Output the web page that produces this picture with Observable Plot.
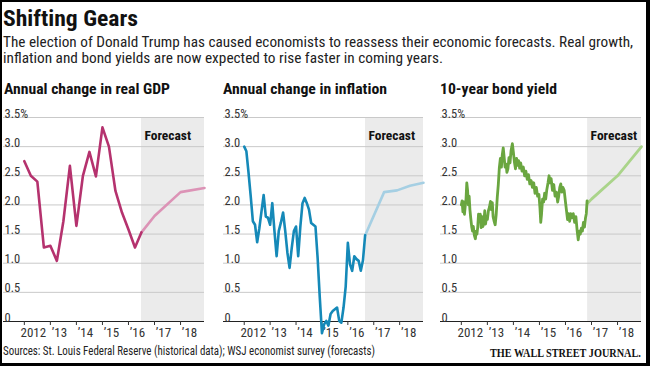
<!DOCTYPE html>
<html><head><meta charset="utf-8">
<script src="https://cdn.jsdelivr.net/npm/d3@7"></script>
<script src="https://cdn.jsdelivr.net/npm/@observablehq/plot@0.6"></script>
<style>
body{margin:0;background:#fff;}
#wrap{position:relative;width:650px;height:366px;overflow:hidden;background:#fff;}
.panel{position:absolute;top:101px;}
.panel svg{overflow:visible;}
#frame{position:absolute;left:0;top:0;width:650px;height:366px;box-sizing:border-box;border-style:solid;border-color:#000;border-width:2px 4px 3px 2px;pointer-events:none;}
#txt{position:absolute;left:0;top:0;pointer-events:none;}
.sans{font-family:"Liberation Sans Narrow","Arial Narrow","Roboto Condensed","DejaVu Sans Condensed",Roboto,sans-serif;}
</style></head><body>
<div id="wrap">
  <div id="p1" class="panel" style="left:0px"></div>
  <div id="p2" class="panel" style="left:218px"></div>
  <div id="p3" class="panel" style="left:435px"></div>
  <svg id="txt" width="650" height="366">
    <text class="sans" x="3" y="25.5" font-size="22" font-weight="bold" fill="#111" textLength="135" lengthAdjust="spacingAndGlyphs">Shifting Gears</text>
    <text class="sans" x="3" y="46.5" font-size="15.5" fill="#222" textLength="630" lengthAdjust="spacingAndGlyphs">The election of Donald Trump has caused economists to reassess their economic forecasts. Real growth,</text>
    <text class="sans" x="3" y="63" font-size="15.5" fill="#222" textLength="440" lengthAdjust="spacingAndGlyphs">inflation and bond yields are now expected to rise faster in coming years.</text>
    <text class="sans" x="4" y="93.5" font-size="15" font-weight="bold" fill="#111" textLength="166" lengthAdjust="spacingAndGlyphs">Annual change in real GDP</text>
    <text class="sans" x="223" y="93.5" font-size="15" font-weight="bold" fill="#111" textLength="164" lengthAdjust="spacingAndGlyphs">Annual change in inflation</text>
    <text class="sans" x="440" y="93.5" font-size="15" font-weight="bold" fill="#111" textLength="117" lengthAdjust="spacingAndGlyphs">10-year bond yield</text>
    <text class="sans" x="3" y="355" font-size="12" fill="#222" textLength="372" lengthAdjust="spacingAndGlyphs">Sources: St. Louis Federal Reserve (historical data); WSJ economist survey (forecasts)</text>
    <text id="wsj" x="0" y="0" font-family="'Liberation Serif','DejaVu Serif',serif" font-size="13" font-weight="bold" fill="#111">THE WALL STREET JOURNAL.</text>
  </svg>
  <div id="frame"></div>
</div>
<script>
const FONT = '"Liberation Sans Narrow","Arial Narrow","Roboto Condensed","DejaVu Sans Condensed",Roboto,sans-serif';

// Axis ticks
const xDomain = [2011.2, 2018.92];
const xTicks = [2012, 2013, 2014, 2015, 2016, 2017, 2018];
const xTickLabels = ["2012", "\u201913", "\u201914", "\u201915", "\u201916", "\u201917", "\u201918"];
const yTicks = [0, 0.5, 1, 1.5, 2, 2.5, 3, 3.5];
const yTickLabels = ["0", "0.5", "1.0", "1.5", "2.0", "2.5", "3.0", "3.5%"];

// Real GDP, annual change (quarterly)
const gdpDates = [2012.0, 2012.25, 2012.5, 2012.75, 2013.0, 2013.25, 2013.5, 2013.75, 2014.0, 2014.25, 2014.5, 2014.75, 2015.0, 2015.25, 2015.5, 2015.75, 2016.0, 2016.25, 2016.5];
const gdpValues = [2.75, 2.5, 2.4, 1.27, 1.3, 1.04, 1.72, 2.67, 1.64, 2.5, 2.91, 2.49, 3.33, 3.0, 2.24, 1.87, 1.58, 1.27, 1.53];
const gdpForecastDates = [2016.5, 2017.0, 2018.0, 2018.92];
const gdpForecastValues = [1.53, 1.81, 2.22, 2.29];
const gdpForecastStart = 2016.5;

// Inflation, annual change (monthly from Jan 2012)
const inflValues = [3.0, 2.92, 2.55, 2.15, 1.72, 1.66, 1.36, 1.6, 1.89, 2.17, 1.8, 1.78,
  1.66, 2.03, 1.55, 1.12, 1.55, 1.7, 1.87, 1.55, 1.18, 0.92, 1.26, 1.55,
  1.63, 1.12, 1.63, 2.03, 2.12, 2.03, 1.92, 1.69, 1.66, 1.63, 1.09, 0.41,
  -0.2, -0.05, 0.01, -0.07, 0.13, 0.18, 0.21, 0.24, 0.01, -0.02, 0.24, 0.6,
  1.35, 0.98, 0.87, 1.12, 1.07, 1.04, 0.87, 1.05, 1.48];
const inflStartYear = 2012;
const inflForecastDates = [2016.67, 2017.4, 2017.9, 2018.4, 2018.92];
const inflForecastValues = [1.48, 2.22, 2.25, 2.33, 2.38];
const inflForecastStart = 2016.68;

// 10-year Treasury yield
const bondDates = [2012.00, 2012.03, 2012.06, 2012.09, 2012.12, 2012.15, 2012.18, 2012.21, 2012.24, 2012.27, 2012.30, 2012.33, 2012.36, 2012.40, 2012.43, 2012.46, 2012.50, 2012.54, 2012.57, 2012.60, 2012.63, 2012.66, 2012.70, 2012.73, 2012.76, 2012.80, 2012.83, 2012.87, 2012.90, 2012.93, 2012.97,
  2013.00, 2013.04, 2013.08, 2013.12, 2013.15, 2013.19, 2013.22, 2013.26, 2013.30, 2013.34, 2013.38, 2013.42, 2013.46, 2013.50, 2013.54, 2013.57, 2013.61, 2013.64, 2013.68, 2013.72, 2013.75, 2013.79, 2013.83, 2013.87, 2013.91, 2013.96,
  2014.00, 2014.04, 2014.08, 2014.12, 2014.16, 2014.20, 2014.24, 2014.28, 2014.33, 2014.38, 2014.43, 2014.48, 2014.53, 2014.58, 2014.63, 2014.68, 2014.73, 2014.78, 2014.83, 2014.88, 2014.93, 2014.98,
  2015.02, 2015.05, 2015.08, 2015.12, 2015.16, 2015.20, 2015.24, 2015.28, 2015.33, 2015.37, 2015.41, 2015.45, 2015.50, 2015.55, 2015.60, 2015.65, 2015.70, 2015.74, 2015.78, 2015.82, 2015.86, 2015.90, 2015.95,
  2016.00, 2016.04, 2016.08, 2016.12, 2016.16, 2016.20, 2016.25, 2016.30, 2016.35, 2016.40, 2016.45, 2016.49, 2016.53, 2016.57, 2016.61, 2016.65, 2016.69, 2016.73, 2016.77, 2016.80, 2016.83];
const bondValues = [2.00, 2.07, 1.88, 2.05, 1.84, 1.98, 2.10, 2.38, 2.25, 2.00, 2.15, 1.92, 1.78, 1.62, 1.55, 1.63, 1.48, 1.42, 1.55, 1.50, 1.62, 1.84, 1.72, 1.84, 1.61, 1.80, 1.63, 1.74, 1.90, 1.67, 1.80,
  1.75, 1.90, 1.96, 2.06, 1.92, 2.04, 1.80, 1.72, 1.66, 1.84, 2.13, 2.35, 2.64, 2.80, 2.65, 2.85, 2.98, 2.84, 2.65, 2.70, 2.56, 2.62, 2.81, 2.72, 2.93, 3.05,
  2.90, 2.73, 2.62, 2.80, 2.68, 2.76, 2.63, 2.72, 2.58, 2.65, 2.50, 2.58, 2.44, 2.52, 2.36, 2.42, 2.30, 2.38, 2.20, 2.30, 2.15, 2.18,
  1.95, 1.70, 1.84, 2.10, 2.05, 2.20, 2.10, 2.25, 2.38, 2.50, 2.38, 2.45, 2.25, 2.35, 2.15, 2.22, 2.05, 2.15, 2.30, 2.36, 2.22, 2.30, 2.25,
  2.05, 1.90, 1.75, 1.85, 1.72, 1.85, 1.78, 1.85, 1.70, 1.80, 1.55, 1.40, 1.55, 1.50, 1.60, 1.55, 1.70, 1.62, 1.78, 1.85, 2.07];
const bondForecastDates = [2016.85, 2017.0, 2018.0, 2018.92];
const bondForecastValues = [2.03, 2.1, 2.5, 3.0];
const bondForecastStart = 2016.85;

const pts = (xs, ys) => xs.map((x, i) => ({x, y: ys[i]}));

function panel({hist, fc, fstart, color, fcColor, marginLeft, marginRight, sw}) {
  return Plot.plot({
    width: 210, height: 262,
    marginTop: 16, marginBottom: 42, marginLeft, marginRight,
    x: {domain: xDomain, axis: null},
    y: {domain: [0, 3.5], axis: null},
    style: {fontFamily: FONT, fontSize: "13px", color: "#333", background: "transparent", overflow: "visible"},
    marks: [
      Plot.rect([fstart], {x1: d => d, x2: () => xDomain[1], y1: () => 0, y2: () => 3.5, fill: "#ebebeb"}),
      Plot.ruleY(yTicks.filter(d => d > 0), {stroke: "#c9c9c9", strokeWidth: 1}),
      Plot.ruleY([0], {stroke: "#222", strokeWidth: 1}),
      Plot.axisX({ticks: xTicks, tickSize: 4, tickFormat: () => "", label: null, stroke: "#333"}),
      Plot.text(xTicks, {x: d => d, frameAnchor: "bottom", text: (d, i) => xTickLabels[i], textAnchor: "middle", lineAnchor: "top", dx: 9, dy: 6.5, fontSize: 13, fill: "#333"}),
      Plot.text(yTicks, {y: d => d, frameAnchor: "left", text: (d, i) => yTickLabels[i], textAnchor: "start", lineAnchor: "bottom", dx: 1, dy: 0, fontSize: 12.5, fill: "#333"}),
      Plot.text([fstart], {x: d => d, y: () => 3.5, text: () => "Forecast", textAnchor: "start", lineAnchor: "top", dx: 3, dy: 13, fontSize: 13.5, fontWeight: "bold", fill: "#111"}),
      Plot.line(fc, {x: "x", y: "y", stroke: fcColor, strokeWidth: sw, strokeLinejoin: "round"}),
      Plot.line(hist, {x: "x", y: "y", stroke: color, strokeWidth: sw, strokeLinejoin: "round"})
    ]
  });
}

document.getElementById("p1").append(panel({
  hist: pts(gdpDates, gdpValues), fc: pts(gdpForecastDates, gdpForecastValues), fstart: gdpForecastStart,
  color: "#b5326e", fcColor: "#dc93b6", marginLeft: 3, marginRight: 6, sw: 2.6
}));
document.getElementById("p2").append(panel({
  hist: pts(inflValues.map((_, i) => inflStartYear + i / 12), inflValues), fc: pts(inflForecastDates, inflForecastValues), fstart: inflForecastStart,
  color: "#1589b8", fcColor: "#a5cfe3", marginLeft: 5, marginRight: 5, sw: 2.6
}));
document.getElementById("p3").append(panel({
  hist: pts(bondDates, bondValues), fc: pts(bondForecastDates, bondForecastValues), fstart: bondForecastStart,
  color: "#6aa640", fcColor: "#aad48a", marginLeft: 5, marginRight: 4, sw: 2.8
}));

// Fit the condensed masthead into its box by horizontal scaling
const wsj = document.getElementById("wsj");
const natural = wsj.getComputedTextLength();
const sx = Math.min(1, 151 / natural);
wsj.setAttribute("transform", `translate(490,357) scale(${sx},1)`);
</script>
</body></html>
